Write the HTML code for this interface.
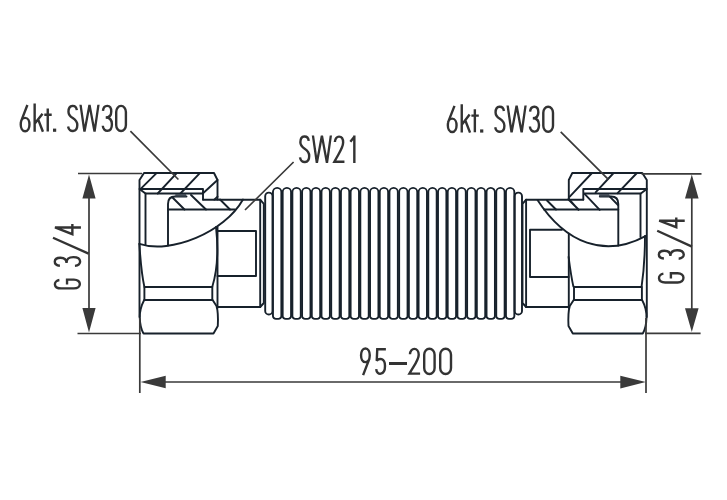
<!DOCTYPE html>
<html><head><meta charset="utf-8"><style>
html,body{margin:0;padding:0;background:#fff;}
svg{display:block;}
text{font-family:"Liberation Sans",sans-serif;fill:#3a3a3a;}
</style></head><body>
<svg width="727" height="500" viewBox="0 0 727 500">
<rect width="727" height="500" fill="#fff"/>
<g fill="none" stroke="#17212b" stroke-width="1.9" stroke-linejoin="round" stroke-linecap="round">
<path d="M139.5,317 V180 L144,173 H214 L217.5,180 V199.5"/>
<path d="M144.2,300 C141,306 139.5,312 139.8,318 C140,325 141.5,330 143.5,333.5 H213.5 L217.8,326 C218.2,318 218,311 216.5,306 L212.3,299.5"/>
<path d="M144.4,287 H212.3 M144.2,300 H212.3 M144.4,287 V300 M212.3,286.7 V299.5"/>
<path d="M139.5,189 H203 M145.5,193.5 H203 M139.5,189 L145.5,193.5 M203,189 V199.5"/>
<path d="M168,245.6 V204 Q168,196.5 175,196.5 H186.5"/>
<path d="M203,199.7 H260.2 L263.8,203.8 V303 L260.2,307 H217.5"/>
<path d="M260.2,199.7 V307"/>
<path d="M646.80 317.00 V180.00 L642.30 173.00 H572.30 L568.80 180.00 V199.50"/>
<path d="M642.10 300.00 C645.30 306.00 646.80 312.00 646.50 318.00 C646.30 325.00 644.80 330.00 642.80 333.50 H572.80 L568.50 326.00 C568.10 318.00 568.30 311.00 569.80 306.00 L574.00 299.50"/>
<path d="M641.90 287.00 H574.00 M642.10 300.00 H574.00 M641.90 287.00 V300.00 M574.00 286.70 V299.50"/>
<path d="M646.80 189.00 H583.30 M640.80 193.50 H583.30 M646.80 189.00 L640.80 193.50 M583.30 189.00 V199.50"/>
<path d="M618.30 245.60 V204.00 Q618.30 196.50 611.30 196.50 H599.80"/>
<path d="M583.30 199.70 H526.10 L522.50 203.80 V303.00 L526.10 307.00 H568.80"/>
<path d="M526.10 199.70 V307.00"/>
<path d="M217.5,227 V308"/>
<path d="M216,227 C218.5,250 217.5,270 212.3,286.7"/>
<path d="M139.4,244 C140.5,262 142,276 144.4,287"/>
<path d="M217.5,180 L203.3,193"/>
<path d="M214.3,199.6 L217.5,196.6"/>
<path d="M145.5,193.5 V244.5"/>
<path d="M139.4,243.8 C170.8,254.3 224.5,232.5 243,199.5"/>
<path d="M168,209.5 H235"/>
<path d="M217.5,231 H256 V276 H217.5"/>
<path d="M140.9,188.7 L156.3,173.3 M157.7,193.5 L176.5,173.3 M180.4,193.5 L199.6,173.3"/>
<path d="M172.5,197.5 L184.5,209.5 M191,195 L206,209.5 M220,199.5 L230,209.5"/>
<path d="M537.5,200 C565.8,243.7 604.9,258.1 646,235.8"/>
<path d="M640.5,193.7 V237"/>
<path d="M645,236 C645,250 644,270 641.6,286.6"/>
<path d="M568.6,257 C570,268 571.5,278 573.4,286.6"/>
<path d="M568.8,233.8 V308"/>
<path d="M544,209.5 H618.3"/>
<path d="M562,229.8 H530 V277 H568.6"/>
<path d="M569.5,196.8 L592,173 M595.6,192.3 L613.6,173 M617.6,193.2 L636.9,173"/>
<path d="M568.6,198.6 L578.5,209.9 M584.8,194.1 L599.7,209.9 M609.5,196.4 L618,205 M547,200.5 L556,209.5 M569,200 L578,209"/>
<rect x="175.3" y="194.1" width="10.8" height="2.5" fill="#3d4650" stroke="none"/>
<rect x="599.2" y="194.1" width="10" height="2.5" fill="#3d4650" stroke="none"/>
<rect x="265.2" y="192.6" width="7.3" height="121.9" rx="3.6" ry="3.6"/>
<rect x="514.7" y="192.6" width="7.3" height="121.9" rx="3.6" ry="3.6"/>
<path d="M272.95,192.10 A4.20,4.20 0 0 1 281.36,192.10 V315.90 A3.00,3.00 0 0 1 278.36,318.90 H275.95 A3.00,3.00 0 0 1 272.95,315.90 Z"/>
<path d="M282.66,192.10 A4.20,4.20 0 0 1 291.07,192.10 V315.90 A3.00,3.00 0 0 1 288.07,318.90 H285.66 A3.00,3.00 0 0 1 282.66,315.90 Z"/>
<path d="M292.37,192.10 A4.20,4.20 0 0 1 300.77,192.10 V315.90 A3.00,3.00 0 0 1 297.77,318.90 H295.37 A3.00,3.00 0 0 1 292.37,315.90 Z"/>
<path d="M302.07,192.10 A4.20,4.20 0 0 1 310.48,192.10 V315.90 A3.00,3.00 0 0 1 307.48,318.90 H305.07 A3.00,3.00 0 0 1 302.07,315.90 Z"/>
<path d="M311.78,192.10 A4.20,4.20 0 0 1 320.19,192.10 V315.90 A3.00,3.00 0 0 1 317.19,318.90 H314.78 A3.00,3.00 0 0 1 311.78,315.90 Z"/>
<path d="M321.49,192.10 A4.20,4.20 0 0 1 329.90,192.10 V315.90 A3.00,3.00 0 0 1 326.90,318.90 H324.49 A3.00,3.00 0 0 1 321.49,315.90 Z"/>
<path d="M331.20,192.10 A4.20,4.20 0 0 1 339.61,192.10 V315.90 A3.00,3.00 0 0 1 336.61,318.90 H334.20 A3.00,3.00 0 0 1 331.20,315.90 Z"/>
<path d="M340.91,192.10 A4.20,4.20 0 0 1 349.31,192.10 V315.90 A3.00,3.00 0 0 1 346.31,318.90 H343.91 A3.00,3.00 0 0 1 340.91,315.90 Z"/>
<path d="M350.61,192.10 A4.20,4.20 0 0 1 359.02,192.10 V315.90 A3.00,3.00 0 0 1 356.02,318.90 H353.61 A3.00,3.00 0 0 1 350.61,315.90 Z"/>
<path d="M360.32,192.10 A4.20,4.20 0 0 1 368.73,192.10 V315.90 A3.00,3.00 0 0 1 365.73,318.90 H363.32 A3.00,3.00 0 0 1 360.32,315.90 Z"/>
<path d="M370.03,192.10 A4.20,4.20 0 0 1 378.44,192.10 V315.90 A3.00,3.00 0 0 1 375.44,318.90 H373.03 A3.00,3.00 0 0 1 370.03,315.90 Z"/>
<path d="M379.74,192.10 A4.20,4.20 0 0 1 388.15,192.10 V315.90 A3.00,3.00 0 0 1 385.15,318.90 H382.74 A3.00,3.00 0 0 1 379.74,315.90 Z"/>
<path d="M389.45,192.10 A4.20,4.20 0 0 1 397.85,192.10 V315.90 A3.00,3.00 0 0 1 394.85,318.90 H392.45 A3.00,3.00 0 0 1 389.45,315.90 Z"/>
<path d="M399.15,192.10 A4.20,4.20 0 0 1 407.56,192.10 V315.90 A3.00,3.00 0 0 1 404.56,318.90 H402.15 A3.00,3.00 0 0 1 399.15,315.90 Z"/>
<path d="M408.86,192.10 A4.20,4.20 0 0 1 417.27,192.10 V315.90 A3.00,3.00 0 0 1 414.27,318.90 H411.86 A3.00,3.00 0 0 1 408.86,315.90 Z"/>
<path d="M418.57,192.10 A4.20,4.20 0 0 1 426.98,192.10 V315.90 A3.00,3.00 0 0 1 423.98,318.90 H421.57 A3.00,3.00 0 0 1 418.57,315.90 Z"/>
<path d="M428.28,192.10 A4.20,4.20 0 0 1 436.69,192.10 V315.90 A3.00,3.00 0 0 1 433.69,318.90 H431.28 A3.00,3.00 0 0 1 428.28,315.90 Z"/>
<path d="M437.99,192.10 A4.20,4.20 0 0 1 446.39,192.10 V315.90 A3.00,3.00 0 0 1 443.39,318.90 H440.99 A3.00,3.00 0 0 1 437.99,315.90 Z"/>
<path d="M447.69,192.10 A4.20,4.20 0 0 1 456.10,192.10 V315.90 A3.00,3.00 0 0 1 453.10,318.90 H450.69 A3.00,3.00 0 0 1 447.69,315.90 Z"/>
<path d="M457.40,192.10 A4.20,4.20 0 0 1 465.81,192.10 V315.90 A3.00,3.00 0 0 1 462.81,318.90 H460.40 A3.00,3.00 0 0 1 457.40,315.90 Z"/>
<path d="M467.11,192.10 A4.20,4.20 0 0 1 475.52,192.10 V315.90 A3.00,3.00 0 0 1 472.52,318.90 H470.11 A3.00,3.00 0 0 1 467.11,315.90 Z"/>
<path d="M476.82,192.10 A4.20,4.20 0 0 1 485.23,192.10 V315.90 A3.00,3.00 0 0 1 482.23,318.90 H479.82 A3.00,3.00 0 0 1 476.82,315.90 Z"/>
<path d="M486.53,192.10 A4.20,4.20 0 0 1 494.93,192.10 V315.90 A3.00,3.00 0 0 1 491.93,318.90 H489.53 A3.00,3.00 0 0 1 486.53,315.90 Z"/>
<path d="M496.23,192.10 A4.20,4.20 0 0 1 504.64,192.10 V315.90 A3.00,3.00 0 0 1 501.64,318.90 H499.23 A3.00,3.00 0 0 1 496.23,315.90 Z"/>
<path d="M505.94,192.10 A4.20,4.20 0 0 1 514.35,192.10 V315.90 A3.00,3.00 0 0 1 511.35,318.90 H508.94 A3.00,3.00 0 0 1 505.94,315.90 Z"/>
</g>
<g fill="none" stroke="#3a3a3a" stroke-width="1.7">
<path d="M78,173.5 H142 M77.5,333.5 H141 M89,190 V318"/>
<path d="M641.5,173.9 H701.5 M645,333.3 H700.6 M691.8,190 V318"/>
<path d="M139.8,318 V393 M646,318 V393 M155,382 H630"/>
<path d="M130.4,131.2 L178.4,179.5 M560.7,131.8 L608.3,179.4 M293.6,162 L245,210"/>
</g>
<g fill="#3a3a3a" stroke="none">
<path d="M89,174.5 L82.4,198.6 H95.6 Z M89,332.5 L82.4,308 H95.6 Z"/>
<path d="M691.8,174.5 L685,198.4 H698.6 Z M691.8,332 L685,308.3 H698.6 Z"/>
<path d="M140.5,382 L165.7,375.7 V388.3 Z M645.8,382 L620.3,375.7 V388.6 Z"/>
</g>
<g fill="none" stroke="#333333" stroke-linecap="butt" stroke-linejoin="miter" stroke-miterlimit="2">
<path d="M27.39 105.06L20.96 121.58M25.10 117.86C19.29 117.86 19.29 131.25 25.10 131.25C30.91 131.25 30.91 117.86 25.10 117.86Z" stroke-width="2.40"/>
<path d="M454.49 105.86L448.06 122.38M452.20 118.66C446.39 118.66 446.39 132.05 452.20 132.05C458.01 132.05 458.01 118.66 452.20 118.66Z" stroke-width="2.40"/>
<path d="M34.65 103.40V131.80M42.53 113.70L34.65 123.84M38.14 119.42L42.95 131.80" stroke-width="2.40"/>
<path d="M461.75 104.20V132.60M469.63 114.50L461.75 124.64M465.24 120.22L470.05 132.60" stroke-width="2.40"/>
<path d="M47.75 108.53V131.57M44.30 114.78H51.70" stroke-width="2.40"/>
<path d="M474.85 109.33V132.37M471.40 115.58H478.80" stroke-width="2.40"/>
<path d="M76.84 110.17C75.92 104.39 68.47 104.14 68.47 111.67C68.47 118.95 77.30 117.19 77.30 124.98C77.30 132.76 69.02 132.76 68.10 126.48" stroke-width="2.40"/>
<path d="M503.94 110.97C503.02 105.19 495.57 104.94 495.57 112.47C495.57 119.75 504.40 118.00 504.40 125.78C504.40 133.56 496.12 133.56 495.20 127.28" stroke-width="2.40"/>
<path clip-path="url(#cw0)" d="M80.12,101.83 L84.88,134.77 M83.90,134.75 L90.05,101.85 M88.95,101.85 L95.10,134.75 M94.12,134.77 L98.88,101.83" stroke-width="2.30"/>
<path clip-path="url(#cw1)" d="M507.22,102.63 L511.98,135.57 M511.00,135.55 L517.15,102.65 M516.05,102.65 L522.20,135.55 M521.22,135.57 L525.98,102.63" stroke-width="2.30"/>
<path d="M102.98 110.92C103.53 104.14 111.26 104.14 111.26 111.42C111.26 115.94 109.35 117.45 105.71 117.45M105.71 117.45C110.26 117.45 111.90 119.70 111.90 124.22C111.90 132.76 103.16 132.76 102.80 125.73" stroke-width="2.40"/>
<path d="M530.08 111.72C530.63 104.94 538.36 104.94 538.36 112.22C538.36 116.74 536.45 118.25 532.81 118.25M532.81 118.25C537.36 118.25 539.00 120.51 539.00 125.02C539.00 133.56 530.26 133.56 529.90 126.53" stroke-width="2.40"/>
<path d="M116.20 111.92C116.20 108.59 118.37 105.90 121.05 105.90C123.73 105.90 125.90 108.59 125.90 111.92V124.98C125.90 128.31 123.73 131.00 121.05 131.00C118.37 131.00 116.20 128.31 116.20 124.98Z" stroke-width="2.40"/>
<path d="M543.30 112.72C543.30 109.39 545.47 106.70 548.15 106.70C550.83 106.70 553.00 109.39 553.00 112.72V125.78C553.00 129.11 550.83 131.80 548.15 131.80C545.47 131.80 543.30 129.11 543.30 125.78Z" stroke-width="2.40"/>
<path d="M308.74 140.84C307.82 134.97 300.37 134.72 300.37 142.37C300.37 149.76 309.20 147.97 309.20 155.88C309.20 163.78 300.92 163.78 300.00 157.41" stroke-width="2.40"/>
<path clip-path="url(#cw2)" d="M312.53,132.53 L317.27,165.97 M316.31,165.95 L322.44,132.55 M321.36,132.55 L327.49,165.95 M326.53,165.97 L331.27,132.53" stroke-width="2.30"/>
<path d="M334.87 142.07C335.05 134.73 343.14 134.73 343.14 142.57C343.14 147.88 339.49 152.19 334.35 161.80H344.44" stroke-width="2.40"/>
<path d="M350.36 141.72L354.34 136.70M354.34 135.55V162.95" stroke-width="2.40"/>
<path d="M363.11 375.16L369.54 358.38M365.40 362.16C371.21 362.16 371.21 348.55 365.40 348.55C359.59 348.55 359.59 362.16 365.40 362.16Z" stroke-width="2.40"/>
<path d="M385.88 349.20H377.26L376.73 360.86C378.84 358.13 385.00 357.38 385.00 366.06C385.00 375.74 376.73 375.74 376.20 369.04" stroke-width="2.40"/>
<path d="M409.98 354.26C410.17 347.06 418.72 347.06 418.72 354.75C418.72 359.96 414.86 364.18 409.43 373.60H420.10" stroke-width="2.40"/>
<path d="M424.20 354.85C424.20 351.50 426.53 348.80 429.40 348.80C432.27 348.80 434.60 351.50 434.60 354.85V367.95C434.60 371.30 432.27 374.00 429.40 374.00C426.53 374.00 424.20 371.30 424.20 367.95Z" stroke-width="2.40"/>
<path d="M440.20 354.85C440.20 351.50 442.62 348.80 445.60 348.80C448.58 348.80 451.00 351.50 451.00 354.85V367.95C451.00 371.30 448.58 374.00 445.60 374.00C442.62 374.00 440.20 371.30 440.20 367.95Z" stroke-width="2.40"/>
<path transform="translate(53.80,235.00) rotate(-90)" d="M7.54 27.14V1.20L0.76 18.56H11.06" stroke-width="2.40"/>
<path transform="translate(53.60,267.10) rotate(-90)" d="M1.38 6.30C1.90 -0.59 9.38 -0.59 9.38 6.81C9.38 11.40 7.54 12.93 4.02 12.93M4.02 12.93C8.42 12.93 10.00 15.22 10.00 19.81C10.00 28.48 1.55 28.48 1.20 21.34" stroke-width="2.40"/>
<path transform="translate(53.60,289.60) rotate(-90)" d="M9.56 5.79C8.68 -0.33 1.20 -0.59 1.20 7.58V20.32C1.20 28.23 10.00 28.23 10.00 20.32V13.44H5.07" stroke-width="2.40"/>
<path transform="translate(658.00,228.00) rotate(-90)" d="M7.25 26.72V1.20L0.78 18.28H10.61" stroke-width="2.40"/>
<path transform="translate(657.70,259.90) rotate(-90)" d="M1.37 6.20C1.88 -0.55 9.10 -0.55 9.10 6.70C9.10 11.20 7.32 12.70 3.92 12.70M3.92 12.70C8.17 12.70 9.70 14.95 9.70 19.45C9.70 27.95 1.54 27.95 1.20 20.95" stroke-width="2.40"/>
<path transform="translate(657.70,283.70) rotate(-90)" d="M10.03 5.70C9.10 -0.30 1.20 -0.55 1.20 7.45V19.95C1.20 27.70 10.50 27.70 10.50 19.95V13.20H5.29" stroke-width="2.40"/>
<path d="M53,237.8 L88.6,253.6 M657.2,230.8 L692,246.6" stroke-width="2.3"/>
</g>
<defs><clipPath id="cw0"><rect x="78.40" y="104.80" width="22.20" height="27.00"/></clipPath><clipPath id="cw1"><rect x="505.50" y="105.60" width="22.20" height="27.00"/></clipPath><clipPath id="cw2"><rect x="310.80" y="135.50" width="22.20" height="27.50"/></clipPath></defs>
<g fill="#333333" stroke="none">
<rect x="53" y="128.6" width="3.2" height="3.2"/><rect x="480.1" y="129.4" width="3.2" height="3.2"/>
<rect x="389" y="362" width="18" height="3.0"/>
</g>
</svg>
</body></html>
